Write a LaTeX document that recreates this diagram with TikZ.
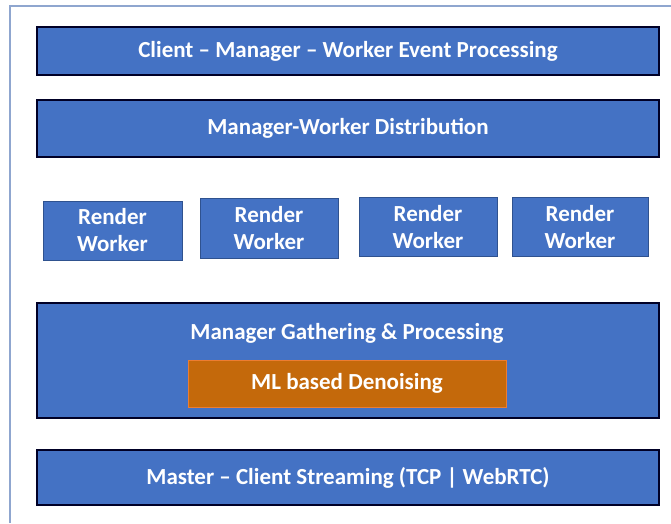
\documentclass[tikz,border=0pt]{standalone}
\usepackage{fontspec}
\setmainfont{Carlito}
\begin{document}
\begin{tikzpicture}[x=1pt,y=-1pt,
  bigbox/.style={draw=black!85!blue, line width=1.6pt, fill=boxblue, text=white, font=\bfseries\fontsize{23}{24}\selectfont, inner sep=0pt},
  workerbox/.style={draw=workerline, line width=1pt, fill=boxblue, text=white, font=\bfseries\fontsize{23}{27}\selectfont, align=center, inner sep=0pt},
  mlbox/.style={draw=mlline, line width=1pt, fill=mlfill, text=white, font=\bfseries\fontsize{23}{24}\selectfont, inner sep=0pt}]
\definecolor{boxblue}{HTML}{4472C4}
\definecolor{workerline}{HTML}{2F528F}
\definecolor{mlfill}{HTML}{C4690B}
\definecolor{mlline}{HTML}{ED7D31}
\definecolor{framecol}{HTML}{8FA6CF}
\useasboundingbox (0,0) rectangle (671,523);
\fill[white] (0,0) rectangle (671,523);
\draw[framecol, line width=2pt] (10,523) -- (10,6) -- (671,6);
\node[bigbox, minimum width=622pt, minimum height=48pt] (cmw) at (348,51) {Client – Manager – Worker Event Processing};
\node[bigbox, minimum width=622pt, minimum height=57pt] (mwd) at (348,128.5) {Manager-Worker Distribution};
\node[workerbox, minimum width=139pt, minimum height=59pt] (w1) at (112.5,230.5) {Render\\Worker};
\node[workerbox, minimum width=138pt, minimum height=60pt] (w2) at (269,228) {Render\\Worker};
\node[workerbox, minimum width=138pt, minimum height=59pt] (w3) at (428,227) {Render\\Worker};
\node[workerbox, minimum width=136pt, minimum height=59pt] (w4) at (580,227) {Render\\Worker};
\node[bigbox, minimum width=622pt, minimum height=115pt] (mgp) at (348,360.5) {};
\node[text=white, font=\bfseries\fontsize{23}{24}\selectfont] (mgpt) at (347,333) {Manager Gathering \& Processing};
\node[mlbox, minimum width=318pt, minimum height=47pt] (ml) at (347,383.5) {ML based Denoising};
\node[bigbox, minimum width=622pt, minimum height=55pt] (mcs) at (348,477.5) {Master – Client Streaming (TCP | WebRTC)};
\end{tikzpicture}
\end{document}
